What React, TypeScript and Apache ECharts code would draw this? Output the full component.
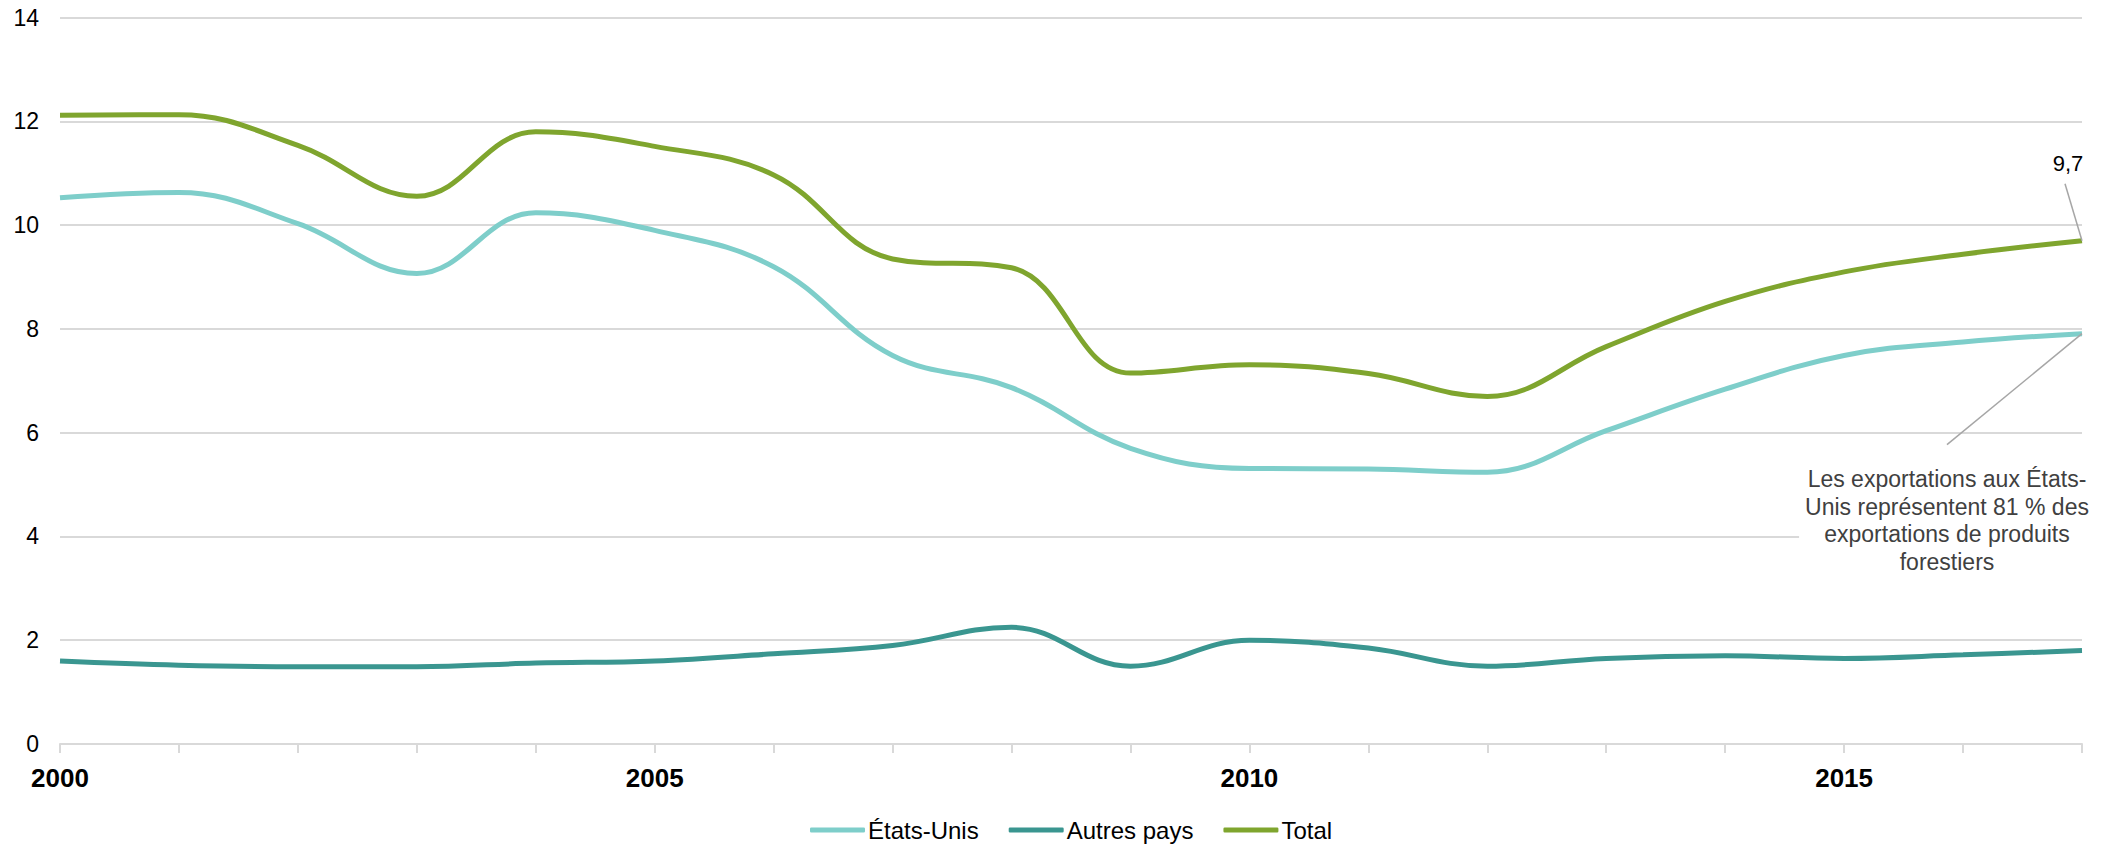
import React, { useEffect, useRef } from "react";
import * as echarts from "echarts";

const years = ["2000","2001","2002","2003","2004","2005","2006","2007","2008","2009","2010","2011","2012","2013","2014","2015","2016","2017"];
const etatsUnis = [10.53,10.63,10.03,9.07,10.24,9.9,9.2,7.49,6.87,5.7,5.31,5.3,5.24,6.04,6.84,7.49,7.75,7.91];
const autresPays = [1.6,1.52,1.49,1.49,1.56,1.6,1.74,1.9,2.25,1.5,2.0,1.85,1.5,1.65,1.7,1.65,1.72,1.8];
const total = [12.12,12.13,11.54,10.56,11.8,11.52,10.97,9.35,9.18,7.15,7.31,7.14,6.7,7.66,8.53,9.1,9.44,9.7];
const seriesNames = ["États-Unis", "Autres pays", "Total"];
const colors = ["#7ececa", "#3a9690", "#7fa52e"];
const yTicks = [0, 2, 4, 6, 8, 10, 12, 14];
const labelledYears = ["2000", "2005", "2010", "2015"];
const endLabel = "9,7";
const noteText = "Les exportations aux États-\nUnis représentent 81 % des\nexportations de produits\nforestiers";

export default function App() {
  const ref = useRef<HTMLDivElement>(null);
  useEffect(() => {
    document.body.style.margin = "0";
    const chart = echarts.init(ref.current!, null, { renderer: "svg" });
    const font = "'Liberation Sans', Arial, sans-serif";
    const data = [etatsUnis, autresPays, total];
    chart.setOption({
      animation: false,
      textStyle: { fontFamily: font },
      grid: { left: 60, right: 32, top: 17.7, bottom: 101, containLabel: false },
      legend: {
        left: 805,
        top: 813,
        padding: 5,
        icon: "roundRect",
        itemWidth: 55,
        itemHeight: 5,
        itemGap: 30,
        textStyle: { fontSize: 24, color: "#000", fontFamily: font, padding: [0, 0, 0, -2] },
        data: seriesNames,
      },
      xAxis: {
        type: "category",
        data: years,
        boundaryGap: false,
        axisLine: { lineStyle: { color: "#d9d9d9", width: 2 } },
        axisTick: { show: true, interval: 0, length: 9, lineStyle: { color: "#d9d9d9", width: 2 } },
        axisLabel: {
          interval: (_i: number, v: string) => labelledYears.includes(v),
          fontSize: 26,
          fontWeight: "bold",
          color: "#000",
          margin: 21,
          fontFamily: font,
        },
        splitLine: { show: false },
      },
      yAxis: {
        type: "value",
        min: yTicks[0],
        max: yTicks[yTicks.length - 1],
        interval: 2,
        axisLine: { show: false },
        axisTick: { show: false },
        axisLabel: { fontSize: 23, color: "#000", margin: 21, fontFamily: font },
        splitLine: { lineStyle: { color: "#d9d9d9", width: 2 } },
      },
      series: seriesNames.map((n, i) => ({
        name: n,
        type: "line",
        data: data[i],
        smooth: 0.4,
        showSymbol: false,
        symbol: "none",
        lineStyle: { color: colors[i], width: 5 },
        itemStyle: { color: colors[i] },
        z: i === 0 ? 3 : 2,
      })),
    });

    const last = years.length - 1;
    const pTot = chart.convertToPixel({ xAxisIndex: 0, yAxisIndex: 0 }, [last, total[last]]) as number[];
    const pUs = chart.convertToPixel({ xAxisIndex: 0, yAxisIndex: 0 }, [last, etatsUnis[last]]) as number[];
    chart.setOption({
      graphic: [
        {
          type: "line",
          shape: { x1: pTot[0] - 17, y1: pTot[1] - 57, x2: pTot[0], y2: pTot[1] },
          style: { stroke: "#a6a6a6", lineWidth: 1.5 },
          z: 10,
        },
        {
          type: "text",
          x: pTot[0] - 14,
          y: pTot[1] - 77,
          style: { text: endLabel, fill: "#000", font: `22px ${font}`, align: "center", verticalAlign: "middle" },
          z: 10,
        },
        {
          type: "text",
          x: pUs[0] - 135,
          y: pUs[1] + 130,
          style: {
            text: noteText,
            font: `23px ${font}`,
            fill: "#404040",
            align: "center",
            verticalAlign: "top",
            lineHeight: 27.5,
            backgroundColor: "#fff",
            padding: [2, 6, 2, 6],
          },
          z: 10,
        },
        {
          type: "line",
          shape: { x1: pUs[0] - 135, y1: pUs[1] + 111, x2: pUs[0], y2: pUs[1] },
          style: { stroke: "#a6a6a6", lineWidth: 1.5 },
          z: 10,
        },
      ],
    });
    return () => chart.dispose();
  }, []);
  return <div ref={ref} style={{ width: 2114, height: 845 }} />;
}
